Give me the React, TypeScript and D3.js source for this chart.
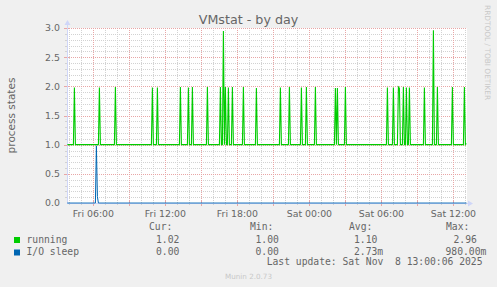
import React from "react";
import * as d3 from "d3";

const W = 497;
const H = 287;

const title = "VMstat - by day";
const yLabel = "process states";
const yTicks = [0, 0.5, 1.0, 1.5, 2.0, 2.5, 3.0];
const yTickLabels = ["0.0", "0.5", "1.0", "1.5", "2.0", "2.5", "3.0"];
// minutes since Fri 00:00
const xTickMinutes = [360, 720, 1080, 1440, 1800, 2160];
const xTickLabels = ["Fri 06:00", "Fri 12:00", "Fri 18:00", "Sat 00:00", "Sat 06:00", "Sat 12:00"];
const startMinute = 228;
const endMinute = 2228;
const stepMinutes = 5;

const runningBaseline = 1.0;
const runningLast = 1.02;
// [minute since Fri 00:00, value]
const runningSpikes: [number, number][] = [
  [265, 1.98], [390, 1.98], [470, 1.99], [655, 1.98], [680, 1.98],
  [795, 1.99], [835, 1.98], [855, 1.99], [930, 1.99], [995, 1.99],
  [1010, 2.95], [1020, 1.99], [1035, 1.98], [1055, 1.99], [1110, 1.99],
  [1175, 1.97], [1295, 1.98], [1340, 1.99], [1400, 1.98], [1425, 1.99],
  [1470, 1.99], [1570, 1.97], [1580, 1.97], [1620, 1.99], [1830, 1.98],
  [1860, 1.98], [1885, 1.99], [1890, 1.97], [1910, 1.99], [1925, 1.98],
  [1940, 1.98], [2015, 1.98], [2060, 2.96], [2080, 1.99], [2155, 1.99],
  [2215, 1.99],
];
const ioBaseline = 0;
const ioSpikes: [number, number][] = [[375, 0.98], [380, 0.11]];

const legendHeaders = ["Cur:", "Min:", "Avg:", "Max:"];
const legendNames = ["running", "I/O sleep"];
const legendColors = ["#00CC00", "#0066B3"];
const legendValues = [
  ["1.02", "1.00", "1.10", "2.96"],
  ["0.00", "0.00", "2.73m", "980.00m"],
];
const lastUpdate = "Last update: Sat Nov  8 13:00:06 2025";
const munin = "Munin 2.0.73";
const watermark = "RRDTOOL / TOBI OETIKER";

function buildSeries(baseline: number, spikes: [number, number][], last?: number) {
  const map = new Map(spikes.map((s) => [s[0], s[1]]));
  const out: [number, number][] = [];
  for (let m = startMinute + 2; m <= endMinute - 3; m += stepMinutes) {
    out.push([m, map.has(m) ? (map.get(m) as number) : baseline]);
  }
  if (last !== undefined) out[out.length - 1] = [out[out.length - 1][0], last];
  return out;
}

const PL = 67, PR = 467, PT = 28, PB = 203;

export default function App() {
  const x = d3.scaleLinear().domain([startMinute, endMinute]).range([PL, PR]);
  const y = d3.scaleLinear().domain([0, 3]).range([PB, PT]);
  const running = buildSeries(runningBaseline, runningSpikes, runningLast);
  const io = buildSeries(ioBaseline, ioSpikes);
  const line = d3
    .line<[number, number]>()
    .x((d) => x(d[0]))
    .y((d) => y(d[1]));

  const minorY = d3.range(1, 30).filter((i) => i % 5 !== 0).map((i) => i / 10);
  const majorY = yTicks.filter((v) => v > 0);
  const minorX = d3.range(240, endMinute, 60).filter((m) => m % 180 !== 0);
  const majorX = d3.range(360, endMinute, 180);
  const py = (v: number) => Math.round(y(v)) + 0.5;
  const px = (m: number) => Math.round(x(m)) + 0.5;

  const axisColor = "#CFD6F8";
  const fontColor = "#666666";
  const mono = "'DejaVu Sans Mono', monospace";
  const sans = "'DejaVu Sans', sans-serif";
  const headerX = [149, 250, 349, 446];
  const valueX = [
    [156, 255.5, 354, 453.5],
    [156, 255.5, 354, 445.5],
  ];

  return (
    <svg
      width={W}
      height={H}
      style={{ position: "fixed", left: 0, top: 0 }}
      xmlns="http://www.w3.org/2000/svg"
    >
      <rect width={W} height={H} fill="#F0F0F0" />
      <rect x={PL} y={PT} width={PR - PL} height={PB - PT} fill="#FFFFFF" />
      <g shapeRendering="crispEdges" strokeDasharray="1,1" strokeWidth={1}>
        {minorY.map((v) => (
          <line key={"my" + v} x1={PL} x2={PR} y1={py(v)} y2={py(v)} stroke="#D2D2D2" />
        ))}
        {minorX.map((m) => (
          <line key={"mx" + m} x1={px(m)} x2={px(m)} y1={PT} y2={PB} stroke="#D2D2D2" />
        ))}
        {majorY.map((v) => (
          <line key={"My" + v} x1={PL} x2={PR} y1={py(v)} y2={py(v)} stroke="#E8A6A6" />
        ))}
        {majorX.map((m) => (
          <line key={"Mx" + m} x1={px(m)} x2={px(m)} y1={PT} y2={PB} stroke="#E8A6A6" />
        ))}
      </g>
      {/* ticks */}
      <g shapeRendering="crispEdges">
        {minorX.map((m) => (
          <line key={"tmx" + m} x1={px(m)} x2={px(m)} y1={PB} y2={PB + 2} stroke="#D2D2D2" />
        ))}
        {majorX.map((m) => (
          <line key={"tMx" + m} x1={px(m)} x2={px(m)} y1={PB - 2} y2={PB + 3} stroke="#E8A6A6" />
        ))}
        {minorY.map((v) => (
          <line key={"tmy" + v} x1={PL - 2} x2={PL} y1={py(v)} y2={py(v)} stroke="#D2D2D2" />
        ))}
        {majorY.map((v) => (
          <line key={"tMy" + v} x1={PL - 3} x2={PL + 2} y1={py(v)} y2={py(v)} stroke="#E8A6A6" />
        ))}
      </g>
      {/* axes */}
      <line x1={PL + 0.5} x2={PL + 0.5} y1={PB + 1} y2={PT - 4} stroke={axisColor} shapeRendering="crispEdges" />
      <path d={`M${PL - 2.5},${PT - 3} L${PL + 3.5},${PT - 3} L${PL + 0.5},${PT - 8} Z`} fill={axisColor} />
      <line x1={PL} x2={PR + 3} y1={PB + 0.5} y2={PB + 0.5} stroke={axisColor} shapeRendering="crispEdges" />
      <path d={`M${PR + 1},${PB - 2.5} L${PR + 1},${PB + 3.5} L${PR + 6},${PB + 0.5} Z`} fill={axisColor} />

      {/* series */}
      <path d={line(io) || ""} fill="none" stroke="#0066B3" strokeWidth={1} />
      <path d={line(running) || ""} fill="none" stroke="#00CC00" strokeWidth={1.1} />

      {/* tick labels */}
      <g fontFamily={sans} fontSize={9.4} fill={fontColor}>
        {yTicks.map((v, i) => (
          <text key={"yl" + v} x={PL - 7} y={y(v) + 3.4} textAnchor="end">
            {yTickLabels[i]}
          </text>
        ))}
        {xTickMinutes.map((m, i) => (
          <text key={"xl" + m} x={x(m)} y={217} textAnchor="middle">
            {xTickLabels[i]}
          </text>
        ))}
      </g>
      <text x={248.5} y={24} textAnchor="middle" fontFamily={sans} fontSize={12.7} fill={fontColor}>
        {title}
      </text>
      <text
        transform={`translate(14.5,${(PT + PB) / 2}) rotate(-90)`}
        textAnchor="middle"
        fontFamily={sans}
        fontSize={10.5}
        fill={fontColor}
      >
        {yLabel}
      </text>
      <text
        transform="translate(485,5) rotate(90)"
        fontFamily={sans}
        fontSize={7.4}
        fill="#C8C8C8"
      >
        {watermark}
      </text>

      {/* legend */}
      <g fontFamily={mono} fontSize={9.7} fill={fontColor}>
        {legendHeaders.map((h, i) => (
          <text key={"h" + h} x={headerX[i]} y={230}>
            {h}
          </text>
        ))}
        {legendNames.map((n, r) => (
          <g key={"r" + n}>
            <rect x={14} y={237 + r * 12.5} width={6} height={6} fill={legendColors[r]} />
            <text x={26.5} y={242.5 + r * 12.5}>
              {n}
            </text>
            {legendValues[r].map((v, c) => (
              <text key={"v" + c} x={valueX[r][c]} y={242.5 + r * 12.5}>
                {v}
              </text>
            ))}
          </g>
        ))}
        <text x={482.5} y={265} textAnchor="end" xmlSpace="preserve">
          {lastUpdate}
        </text>
      </g>
      <text x={248.5} y={278.5} textAnchor="middle" fontFamily={sans} fontSize={7.2} fill="#C8C8C8">
        {munin}
      </text>
    </svg>
  );
}
